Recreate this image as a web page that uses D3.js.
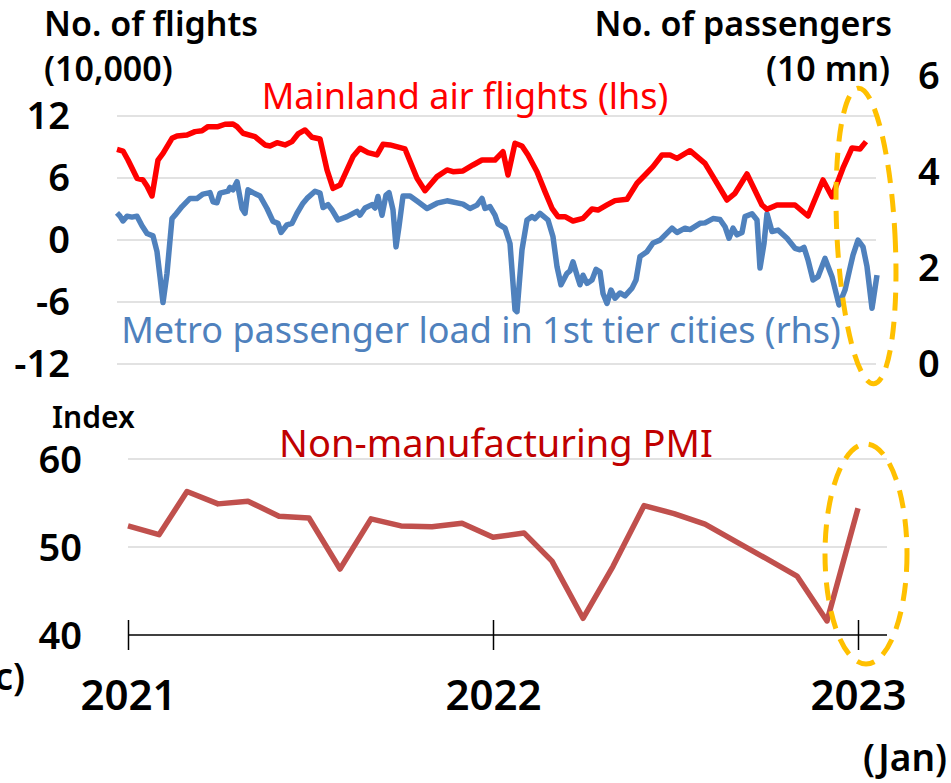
<!DOCTYPE html>
<meta charset="utf-8">
<style>
body { margin: 0; background: #fff; }
text { font-family: "Noto Sans", "Open Sans", sans-serif; }
.lbl { font-size: 38px; font-weight: 600; fill: #000; }
.hdr { font-size: 34px; font-weight: 600; fill: #000; }
.grid line { stroke: #d9d9d9; stroke-width: 1.5px; }
.series { fill: none; stroke-width: 5.5px; stroke-linejoin: round; }
.ring { fill: none; stroke: #ffc000; stroke-width: 5px; stroke-dasharray: 18 11; }
</style>
<svg width="951" height="783"></svg>
<script src="https://d3js.org/d3.v7.min.js"></script>
<script>

// days since 2021-01-01
var flightDays = [0,6,11,20,26,30,35,41,46,55,60,70,78,85,91,101,108,116,120,126,138,148,153,160,168,175,181,188,195,203,210,216,223,236,243,251,260,266,273,288,300,308,320,330,336,346,356,365,378,386,391,398,405,411,420,428,435,441,448,456,466,475,481,490,498,510,520,528,536,545,553,560,573,588,596,610,618,630,645,650,660,678,691,706,715,726,735,743,749];
var flightVals = [8.78,8.61,7.74,5.97,5.81,5.23,4.26,7.74,8.39,9.84,10.07,10.16,10.49,10.58,10.97,10.97,11.2,11.23,10.97,10.33,10.0,9.2,9.1,9.42,9.2,9.52,10.26,10.65,9.94,9.78,6.78,5.0,5.32,8.07,8.88,8.46,8.23,9.26,9.2,8.81,5.97,4.77,6.13,6.78,6.61,6.68,7.26,7.74,7.74,8.55,6.29,9.36,9.1,8.23,6.61,4.68,3.07,2.26,2.26,1.84,2.1,3.0,2.9,3.39,3.81,3.94,5.49,6.29,7.1,8.23,8.23,7.9,8.64,7.42,6.13,3.87,4.52,6.39,3.39,2.97,3.39,3.39,2.32,5.81,4.19,6.97,8.91,8.81,9.52];

var metroDays = [0,3,6,10,15,20,25,30,36,40,43,46,50,55,58,65,73,80,86,93,96,100,103,111,113,116,120,125,128,131,136,143,150,156,161,164,170,175,180,186,190,198,203,206,211,215,221,230,240,243,248,255,258,261,265,269,272,276,279,282,286,293,301,310,320,330,346,353,360,365,368,373,378,381,388,393,398,400,405,410,415,418,423,431,436,440,444,450,453,456,460,463,466,470,475,479,483,486,490,494,498,503,508,515,519,523,530,536,543,555,560,568,573,583,588,596,603,608,612,616,620,625,628,635,640,643,647,650,655,661,670,678,683,687,691,696,701,708,715,722,728,733,736,741,746,750,755,760];
var metroVals = [3.15,3.08,2.98,3.08,3.06,3.08,2.88,2.72,2.67,2.34,1.82,1.28,1.89,3.03,3.1,3.28,3.45,3.45,3.54,3.57,3.38,3.36,3.56,3.6,3.68,3.63,3.8,3.24,3.14,3.63,3.57,3.5,3.24,2.97,2.93,2.74,2.9,2.93,3.14,3.35,3.45,3.6,3.56,3.26,3.32,3.21,3.0,3.07,3.18,3.1,3.25,3.32,3.25,3.49,3.1,3.52,3.57,3.21,2.44,2.86,3.5,3.5,3.38,3.24,3.35,3.4,3.33,3.24,3.31,3.45,3.24,3.28,3.1,2.92,2.83,2.51,1.13,1.09,2.38,3.0,3.07,3.03,3.14,3.0,2.65,2.03,1.65,1.89,1.94,2.13,1.85,1.65,1.85,1.68,1.75,1.97,1.92,1.47,1.26,1.54,1.37,1.48,1.42,1.58,1.75,2.24,2.34,2.52,2.58,2.83,2.74,2.83,2.8,2.93,2.94,3.03,3.01,2.86,2.62,2.83,2.69,2.74,3.07,3.13,3.0,2.0,2.51,3.13,2.76,2.79,2.62,2.41,2.38,2.43,2.17,1.75,1.82,2.2,1.82,1.23,1.54,2.0,2.27,2.58,2.44,2.03,1.16,1.85];

var pmiMonths = ["2021-01","2021-02","2021-03","2021-04","2021-05","2021-06","2021-07","2021-08","2021-09","2021-10","2021-11","2021-12",
                 "2022-01","2022-02","2022-03","2022-04","2022-05","2022-06","2022-07","2022-08","2022-09","2022-10","2022-11","2022-12","2023-01"];
var pmiVals = [52.4,51.4,56.3,54.9,55.2,53.5,53.3,47.5,53.2,52.4,52.3,52.7,51.1,51.6,48.4,41.9,47.8,54.7,53.8,52.6,50.6,48.7,46.7,41.6,54.4];

var leftTicks = [12, 6, 0, -6, -12];
var rightTicks = [6, 4, 2, 0];
var pmiTicks = [60, 50, 40];
var yearTicks = ["2021", "2022", "2023"];

var svg = d3.select("svg");
var start = new Date(2021, 0, 1), end = new Date(2023, 0, 1);
var parseMonth = d3.timeParse("%Y-%m");

// ---- top panel
var xTop = d3.scaleTime().domain([start, end]).range([117, 847]);
var yL = d3.scaleLinear().domain([-12, 12]).range([364, 116]);
var yR = d3.scaleLinear().domain([0, 6]).range([364, 76]);

svg.append("g").attr("class", "grid")
  .selectAll("line").data(leftTicks).enter().append("line")
    .attr("x1", 117).attr("x2", 876)
    .attr("y1", yL).attr("y2", yL);

svg.append("g").selectAll("text").data(leftTicks).enter().append("text")
    .attr("class", "lbl")
    .attr("x", 70).attr("y", function(d) { return yL(d) + 13; })
    .attr("text-anchor", "end")
    .text(function(d) { return d; });

svg.append("g").selectAll("text").data(rightTicks).enter().append("text")
    .attr("class", "lbl")
    .attr("x", 918).attr("y", function(d) { return yR(d) + 13; })
    .text(function(d) { return d; });

svg.append("text").attr("class", "hdr").attr("x", 44).attr("y", 36).text("No. of flights");
svg.append("text").attr("class", "hdr").attr("x", 44).attr("y", 81).text("(10,000)");
svg.append("text").attr("class", "hdr").attr("x", 892).attr("y", 36).attr("text-anchor", "end").text("No. of passengers");
svg.append("text").attr("class", "hdr").attr("x", 890).attr("y", 81).attr("text-anchor", "end").text("(10 mn)");

var flights = flightDays.map(function(d, i) { return { date: d3.timeDay.offset(start, d), v: flightVals[i] }; });
var metro = metroDays.map(function(d, i) { return { date: d3.timeDay.offset(start, d), v: metroVals[i] }; });

svg.append("path").datum(metro)
    .attr("class", "series").attr("stroke", "#4f81bd")
    .attr("d", d3.line().x(function(d) { return xTop(d.date); }).y(function(d) { return yR(d.v); }));

svg.append("path").datum(flights)
    .attr("class", "series").attr("stroke", "#ff0000")
    .attr("d", d3.line().x(function(d) { return xTop(d.date); }).y(function(d) { return yL(d.v); }));

svg.append("text").attr("x", 465).attr("y", 109).attr("text-anchor", "middle")
    .style("font-size", "36px").attr("fill", "#ff0000").text("Mainland air flights (lhs)");
svg.append("text").attr("x", 481).attr("y", 343).attr("text-anchor", "middle")
    .style("font-size", "36px").attr("fill", "#4f81bd").text("Metro passenger load in 1st tier cities (rhs)");

// ---- bottom panel
var xBot = d3.scaleTime().domain([start, end]).range([128, 858]);
var yP = d3.scaleLinear().domain([40, 60]).range([635, 459]);

svg.append("g").attr("class", "grid")
  .selectAll("line").data([60, 50]).enter().append("line")
    .attr("x1", 128).attr("x2", 887)
    .attr("y1", yP).attr("y2", yP);

svg.append("g").selectAll("text").data(pmiTicks).enter().append("text")
    .attr("class", "lbl")
    .attr("x", 82).attr("y", function(d) { return yP(d) + 14; })
    .attr("text-anchor", "end")
    .text(function(d) { return d; });

svg.append("text").attr("class", "hdr").attr("x", 52).attr("y", 428).style("font-size", "30px").text("Index");

var xAxis = d3.axisBottom(xBot)
    .tickValues(yearTicks.map(function(y) { return new Date(+y, 0, 1); }))
    .tickSize(15).tickFormat(d3.timeFormat("%Y"));

var ax = svg.append("g").attr("transform", "translate(0," + 635 + ")").call(xAxis);
ax.select(".domain").remove();
ax.append("line").attr("x1", 128).attr("x2", 887).attr("stroke", "#000").attr("stroke-width", 1.5);
ax.selectAll(".tick line").attr("y1", -15).attr("stroke-width", 1.5);
ax.selectAll(".tick text").attr("y", 75).attr("dy", null)
    .style("font-family", "'Noto Sans', sans-serif").style("font-size", "42px").style("font-weight", "600").attr("fill", "#000");

svg.append("text").attr("class", "hdr").attr("x", 25).attr("y", 690).attr("text-anchor", "end").style("font-size", "37px").text("(Dec)");
svg.append("text").attr("class", "hdr").attr("x", 947).attr("y", 771).attr("text-anchor", "end").style("font-size", "37px").text("(Jan)");

var pmi = pmiMonths.map(function(m, i) { return { date: parseMonth(m), v: pmiVals[i] }; });
svg.append("path").datum(pmi)
    .attr("class", "series").attr("stroke", "#c0504d")
    .attr("d", d3.line().x(function(d) { return xBot(d.date); }).y(function(d) { return yP(d.v); }));

svg.append("text").attr("x", 496).attr("y", 457).attr("text-anchor", "middle")
    .style("font-size", "38px").attr("fill", "#c00000").text("Non-manufacturing PMI");

// ---- highlight rings
svg.append("ellipse").attr("class", "ring")
    .attr("cx", 866).attr("cy", 236).attr("rx", 29).attr("ry", 148)
    .attr("transform", "rotate(-3,866,236)");
svg.append("ellipse").attr("class", "ring")
    .attr("cx", 866).attr("cy", 554).attr("rx", 41).attr("ry", 110);

</script>
